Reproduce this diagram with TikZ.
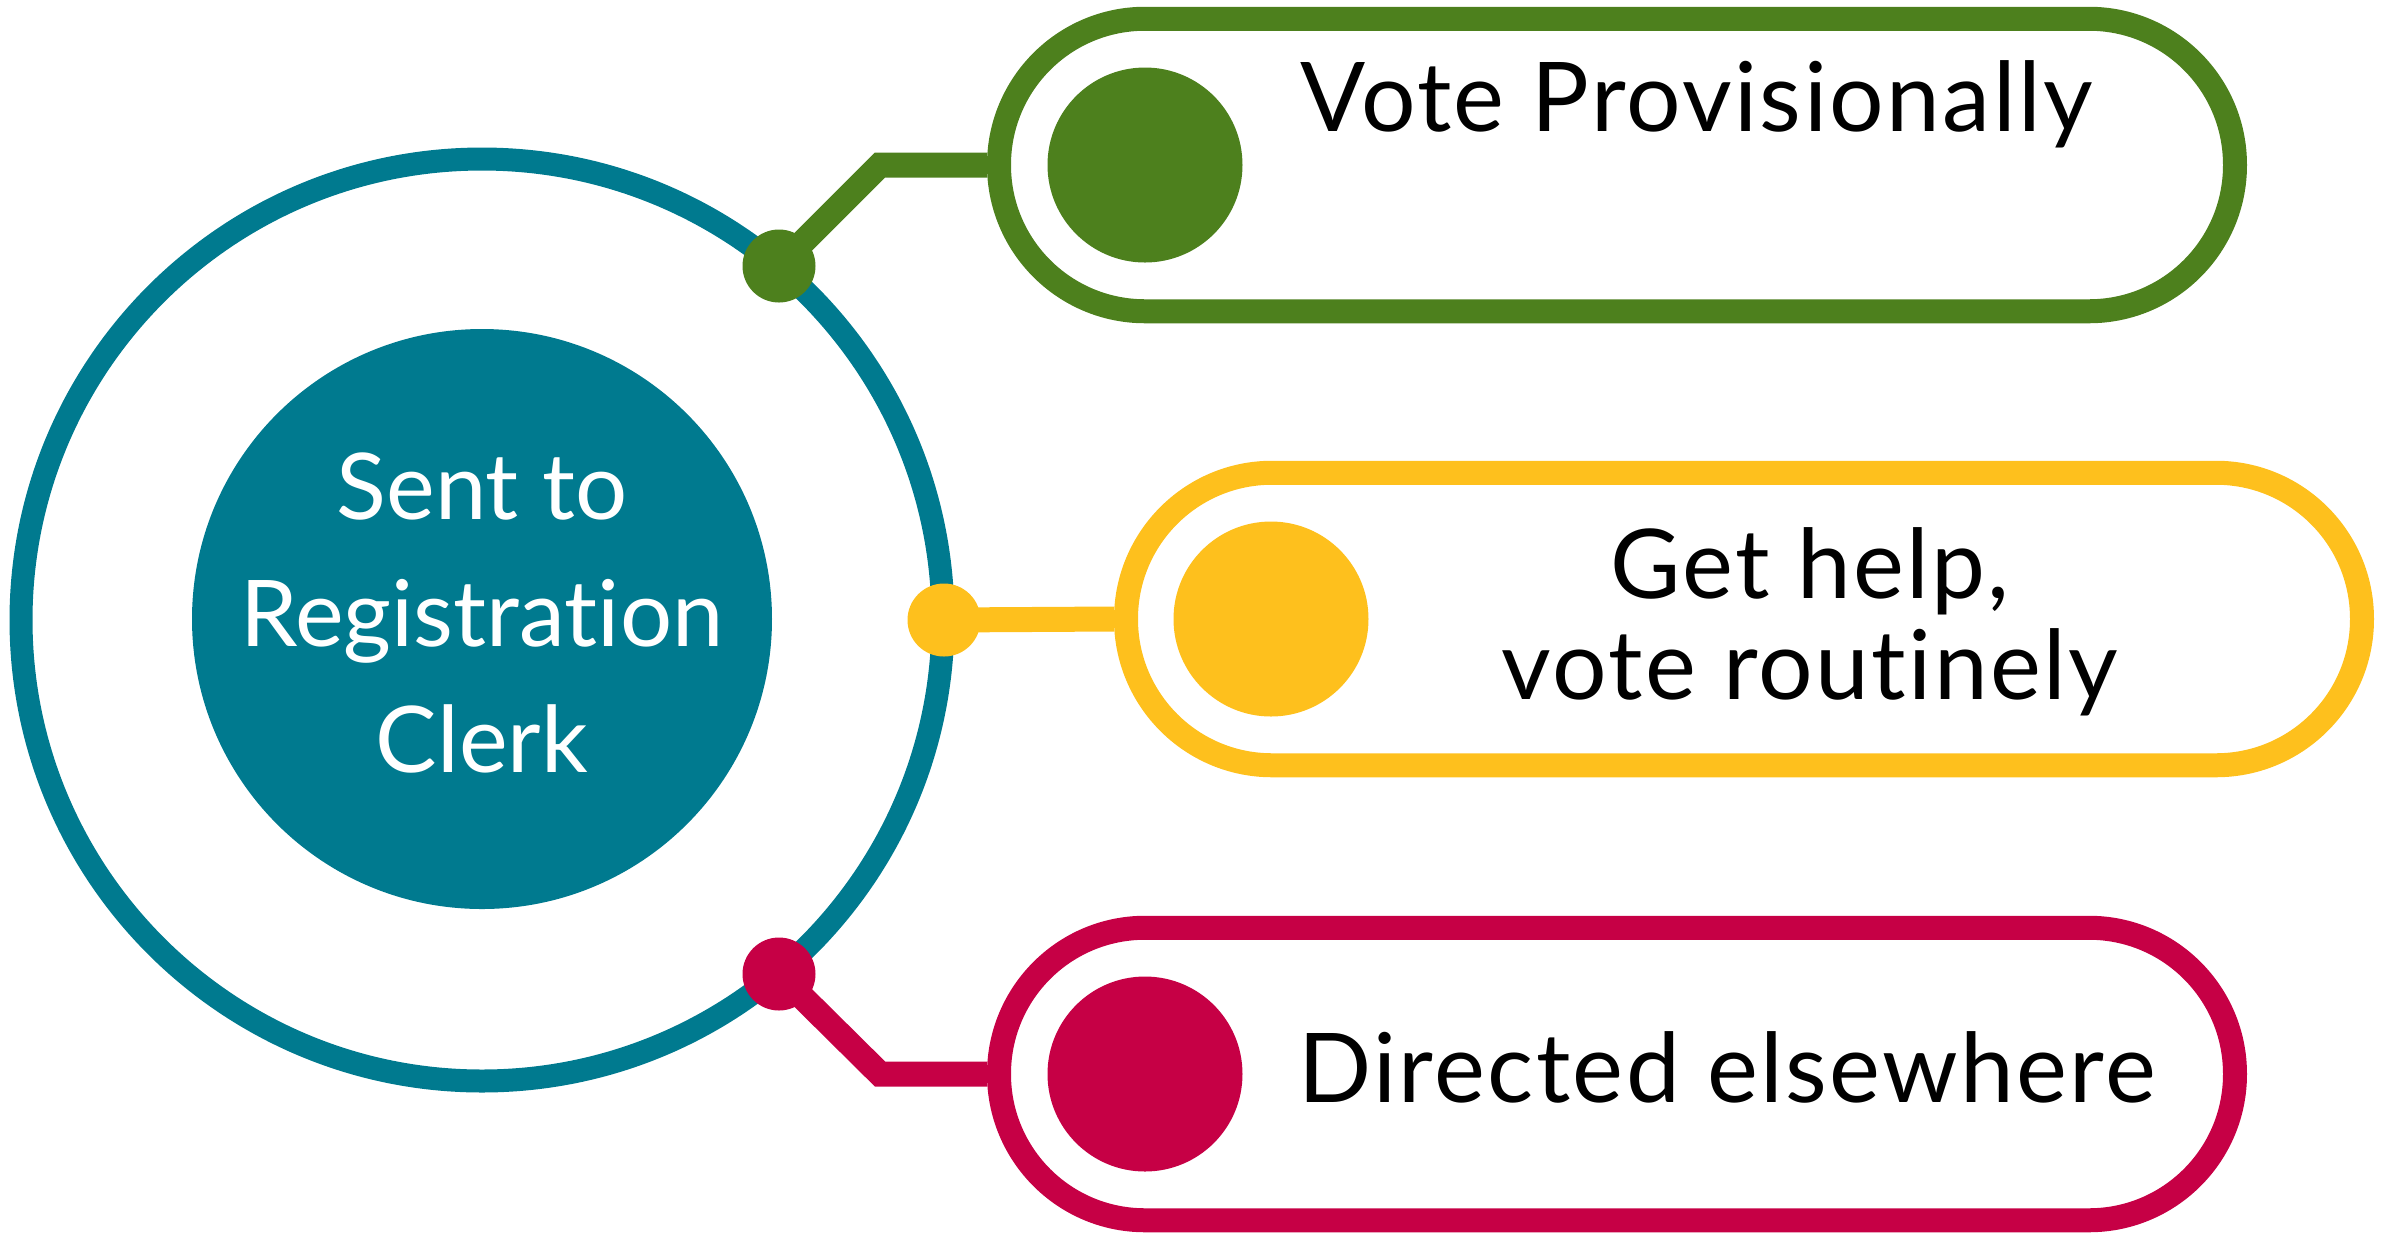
\documentclass[tikz,border=0pt]{standalone}
\usepackage{fontspec}
\setmainfont{Lato}[Ligatures=NoCommon]
\newfontfamily\pillfont{Lato}[Ligatures=NoCommon, LetterSpace=2.5]

\definecolor{ringteal}{RGB}{0,122,143}
\definecolor{votegreen}{RGB}{77,128,29}
\definecolor{helpyellow}{RGB}{254,192,29}
\definecolor{dirred}{RGB}{198,0,69}

\tikzset{
  ringdot/.style={circle, fill=#1, minimum size=7.3mm, inner sep=0pt},
  pillbox/.style={rectangle, draw=#1, line width=2.4mm, rounded corners=14.6mm,
    minimum width=123.6mm, minimum height=29.25mm, inner sep=0pt},
  pillbullet/.style={circle, fill=#1, minimum size=19.5mm, inner sep=0pt},
  pilllink/.style={draw=#1, line width=2.5mm},
  pilltext/.style={font=\pillfont\fontsize{27.4}{28.7}\selectfont, inner sep=0pt}
}

\begin{document}
\begin{tikzpicture}[x=0.1mm, y=-0.1mm]
        \useasboundingbox (0,0) rectangle (2381,1236);

        % ring and hub
        \node[circle, draw=ringteal, line width=2.3mm, minimum size=92.2mm, inner sep=0pt] (ring) at (482,620) {};
        \node[circle, fill=ringteal, minimum size=58mm, inner sep=0pt] (hub) at (482,619) {};
        \node[text=white, align=center, inner sep=0pt,
              font=\fontsize{26.2}{36.1}\selectfont] (hubtext) at (482,613) {Sent to\\Registration\\Clerk};

        % dots on the ring
        \node[ringdot=votegreen] (gdot) at (779,266) {};
        \node[ringdot=helpyellow] (ydot) at (944,620) {};
        \node[ringdot=dirred] (rdot) at (779,974) {};

        % pills
        \node[pillbox=votegreen] (vote) at (1617,165) {};
        \node[pillbox=helpyellow] (help) at (1744,619) {};
        \node[pillbox=dirred] (dir) at (1617,1074) {};

        % links
        \coordinate (gbend) at (880,165);
        \coordinate (rbend) at (880,1074);
        \draw[pilllink=votegreen] (gdot.center) -- (gbend) -- (vote.west);
        \draw[pilllink=helpyellow] (ydot.center) -- (help.west);
        \draw[pilllink=dirred] (rdot.center) -- (rbend) -- (dir.west);

        % bullets
        \node[pillbullet=votegreen] (vbullet) at (1145,165) {};
        \node[pillbullet=helpyellow] (hbullet) at (1271,619) {};
        \node[pillbullet=dirred] (dbullet) at (1145,1074) {};

        % texts
        \node[pilltext, anchor=base west] (votetext) at (1300,131) {Vote Provisionally};
        \node[pilltext, anchor=north, align=center] (helptext) at (1810,527) {Get help,\\vote routinely};
        \node[pilltext, anchor=base west] (dirtext) at (1298,1102) {Directed elsewhere};
\end{tikzpicture}
\end{document}
